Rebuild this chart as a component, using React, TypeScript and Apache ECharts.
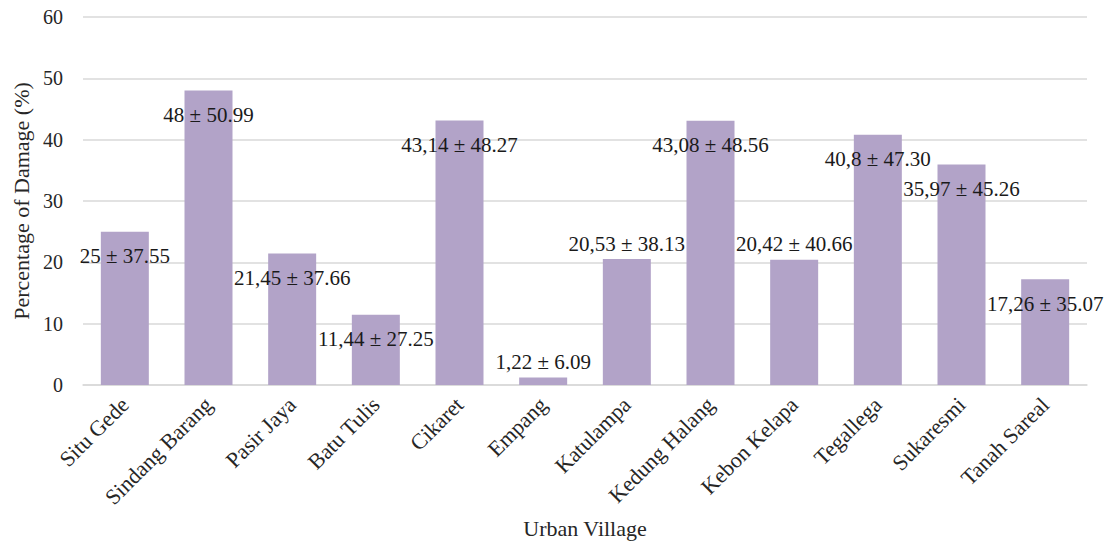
import React, { useEffect, useRef } from "react";
import * as echarts from "echarts";

const categories = [
  "Situ Gede",
  "Sindang Barang",
  "Pasir Jaya",
  "Batu Tulis",
  "Cikaret",
  "Empang",
  "Katulampa",
  "Kedung Halang",
  "Kebon Kelapa",
  "Tegallega",
  "Sukaresmi",
  "Tanah Sareal",
];
const meanDamage = [25, 48, 21.45, 11.44, 43.14, 1.22, 20.53, 43.08, 20.42, 40.8, 35.97, 17.26];
const sdDamage = [37.55, 50.99, 37.66, 27.25, 48.27, 6.09, 38.13, 48.56, 40.66, 47.3, 45.26, 35.07];
const labelsAbove = ["Empang", "Katulampa", "Kebon Kelapa"];
const yTicks = { min: 0, max: 60, interval: 10 };

const FONT = "'Liberation Serif', 'Times New Roman', serif";
const TEXT = "#262626";

export default function App() {
  const ref = useRef<HTMLDivElement>(null);
  useEffect(() => {
    if (!ref.current) return;
    const chart = echarts.init(ref.current, null, { renderer: "svg" });
    const data = meanDamage.map((v, i) => {
      const above = labelsAbove.includes(categories[i]);
      return {
        value: v,
        label: above
          ? { position: "top", distance: 5 }
          : { position: "insideTop", distance: 14 },
      };
    });
    chart.setOption({
      animation: false,
      backgroundColor: "#ffffff",
      textStyle: { fontFamily: FONT },
      grid: { left: 83, right: 23, top: 17, bottom: 160, containLabel: false },
      xAxis: {
        type: "category",
        data: categories,
        name: "Urban Village",
        nameLocation: "middle",
        nameGap: 132,
        nameTextStyle: { fontFamily: FONT, fontSize: 22, color: TEXT },
        axisLine: { lineStyle: { color: "#d9d9d9", width: 1.5 } },
        axisTick: { show: false },
        axisLabel: {
          rotate: 45,
          interval: 0,
          margin: 16,
          fontFamily: FONT,
          fontSize: 22,
          color: TEXT,
        },
      },
      yAxis: {
        type: "value",
        min: yTicks.min,
        max: yTicks.max,
        interval: yTicks.interval,
        name: "Percentage of Damage (%)",
        nameLocation: "middle",
        nameGap: 48,
        nameTextStyle: { fontFamily: FONT, fontSize: 22, color: TEXT },
        axisLine: { show: false },
        axisTick: { show: false },
        axisLabel: { margin: 20, fontFamily: FONT, fontSize: 20, color: TEXT },
        splitLine: { lineStyle: { color: "#d9d9d9", width: 1.5 } },
      },
      series: [
        {
          type: "bar",
          data,
          barWidth: 48,
          itemStyle: { color: "#b2a3c8" },
          label: {
            show: true,
            fontFamily: FONT,
            fontSize: 21,
            color: "#1a1a1a",
            formatter: (p: any) =>
              String(meanDamage[p.dataIndex]).replace(".", ",") +
              " \u00b1 " +
              sdDamage[p.dataIndex].toFixed(2),
          },
        },
      ],
    });
    return () => chart.dispose();
  }, []);
  return (
    <div
      ref={ref}
      style={{ position: "fixed", left: 0, top: 0, width: 1110, height: 545, background: "#fff" }}
    />
  );
}
